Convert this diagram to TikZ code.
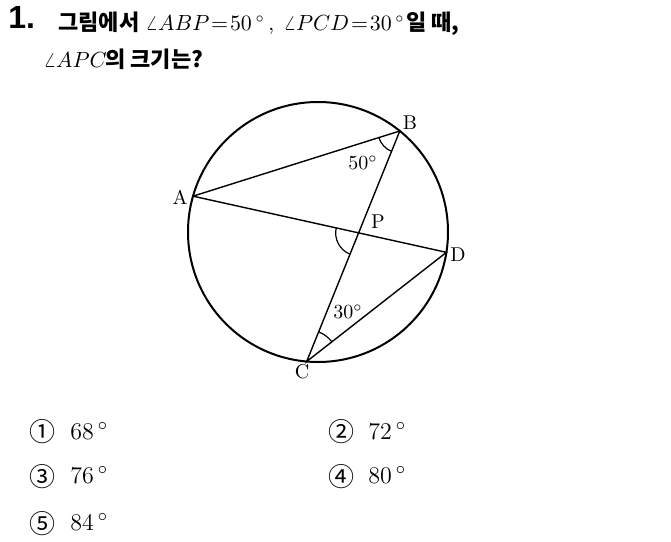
\documentclass[tikz,border=0pt]{standalone}
\usepackage{fontspec}
\newfontfamily\kor{Noto Sans CJK KR}
\newfontfamily\hd{Liberation Sans}
\usetikzlibrary{angles,calc}

\begin{document}
\begin{tikzpicture}[x=0.5pt,y=-0.5pt,
    ttl/.style={anchor=base west,inner sep=0pt,font=\kor\bfseries\fontsize{11}{13}\selectfont},
    mth/.style={anchor=base west,inner sep=0pt,font=\fontsize{10.5}{13}\selectfont},
    lbl/.style={inner sep=0pt,font=\normalsize},
    num/.style={inner sep=0pt,font=\kor\fontsize{13}{15}\selectfont},
    val/.style={anchor=base west,inner sep=0pt,font=\fontsize{12.5}{15}\selectfont},
    ang/.style={draw,line width=0.6pt}]
\useasboundingbox (0,0) rectangle (671,542);
% question
\node[anchor=base west,inner sep=0pt,font=\hd\bfseries\fontsize{16}{18}\selectfont] (qno) at (8,28) {1.};
\node[ttl] (q1) at (58,30) {그림에서};
\node[mth] (q2) at (145,30) {$\angle ABP\mkern1.5mu{=}\mkern1.5mu50\,^\circ$\,,};
\node[mth] (q3) at (283,30) {$\angle PCD\mkern1.5mu{=}\mkern1.5mu30\,^\circ$};
\node[ttl] (q4) at (406,30) {일 때,};
\node[mth] (q5) at (43,67) {$\angle APC$};
\node[ttl] (q6) at (105,67) {의 크기는?};
% circle
\coordinate (O) at (318,232);
\draw[line width=1pt] (O) circle [radius=65pt];
\coordinate (A) at ($(O)+(164:65pt)$);
\coordinate (B) at ($(O)+(51:65pt)$);
\coordinate (C) at ($(O)+(-95:65pt)$);
\coordinate (D) at ($(O)+(-9:65pt)$);
\coordinate (P) at (intersection of A--D and B--C);
\draw[line width=0.7pt] (A) -- (B) -- (C) -- (D) -- (A);
\pic[ang,angle radius=11pt] {angle=A--B--C};
\pic[ang,angle radius=11.5pt] {angle=A--P--C};
\pic[ang,angle radius=16pt] {angle=D--C--B};
\node[lbl] (la) at (180,197) {A};
\node[lbl] (lb) at (410,123) {B};
\node[lbl] (lc) at (302,372) {C};
\node[lbl] (ld) at (458,255) {D};
\node[lbl] (lp) at (378,222) {P};
\node[lbl] (a50) at (363,163) {$50^\circ$};
\node[lbl] (a30) at (348,312) {$30^\circ$};
% choices
\node[num] (n1) at (42,432) {①};
\node[val] (v1) at (70,439) {$68\,^\circ$};
\node[num] (n2) at (341,432) {②};
\node[val] (v2) at (368,439) {$72\,^\circ$};
\node[num] (n3) at (42,477) {③};
\node[val] (v3) at (70,483) {$76\,^\circ$};
\node[num] (n4) at (341,477) {④};
\node[val] (v4) at (368,483) {$80\,^\circ$};
\node[num] (n5) at (42,524) {⑤};
\node[val] (v5) at (70,530) {$84\,^\circ$};
\end{tikzpicture}
\end{document}
